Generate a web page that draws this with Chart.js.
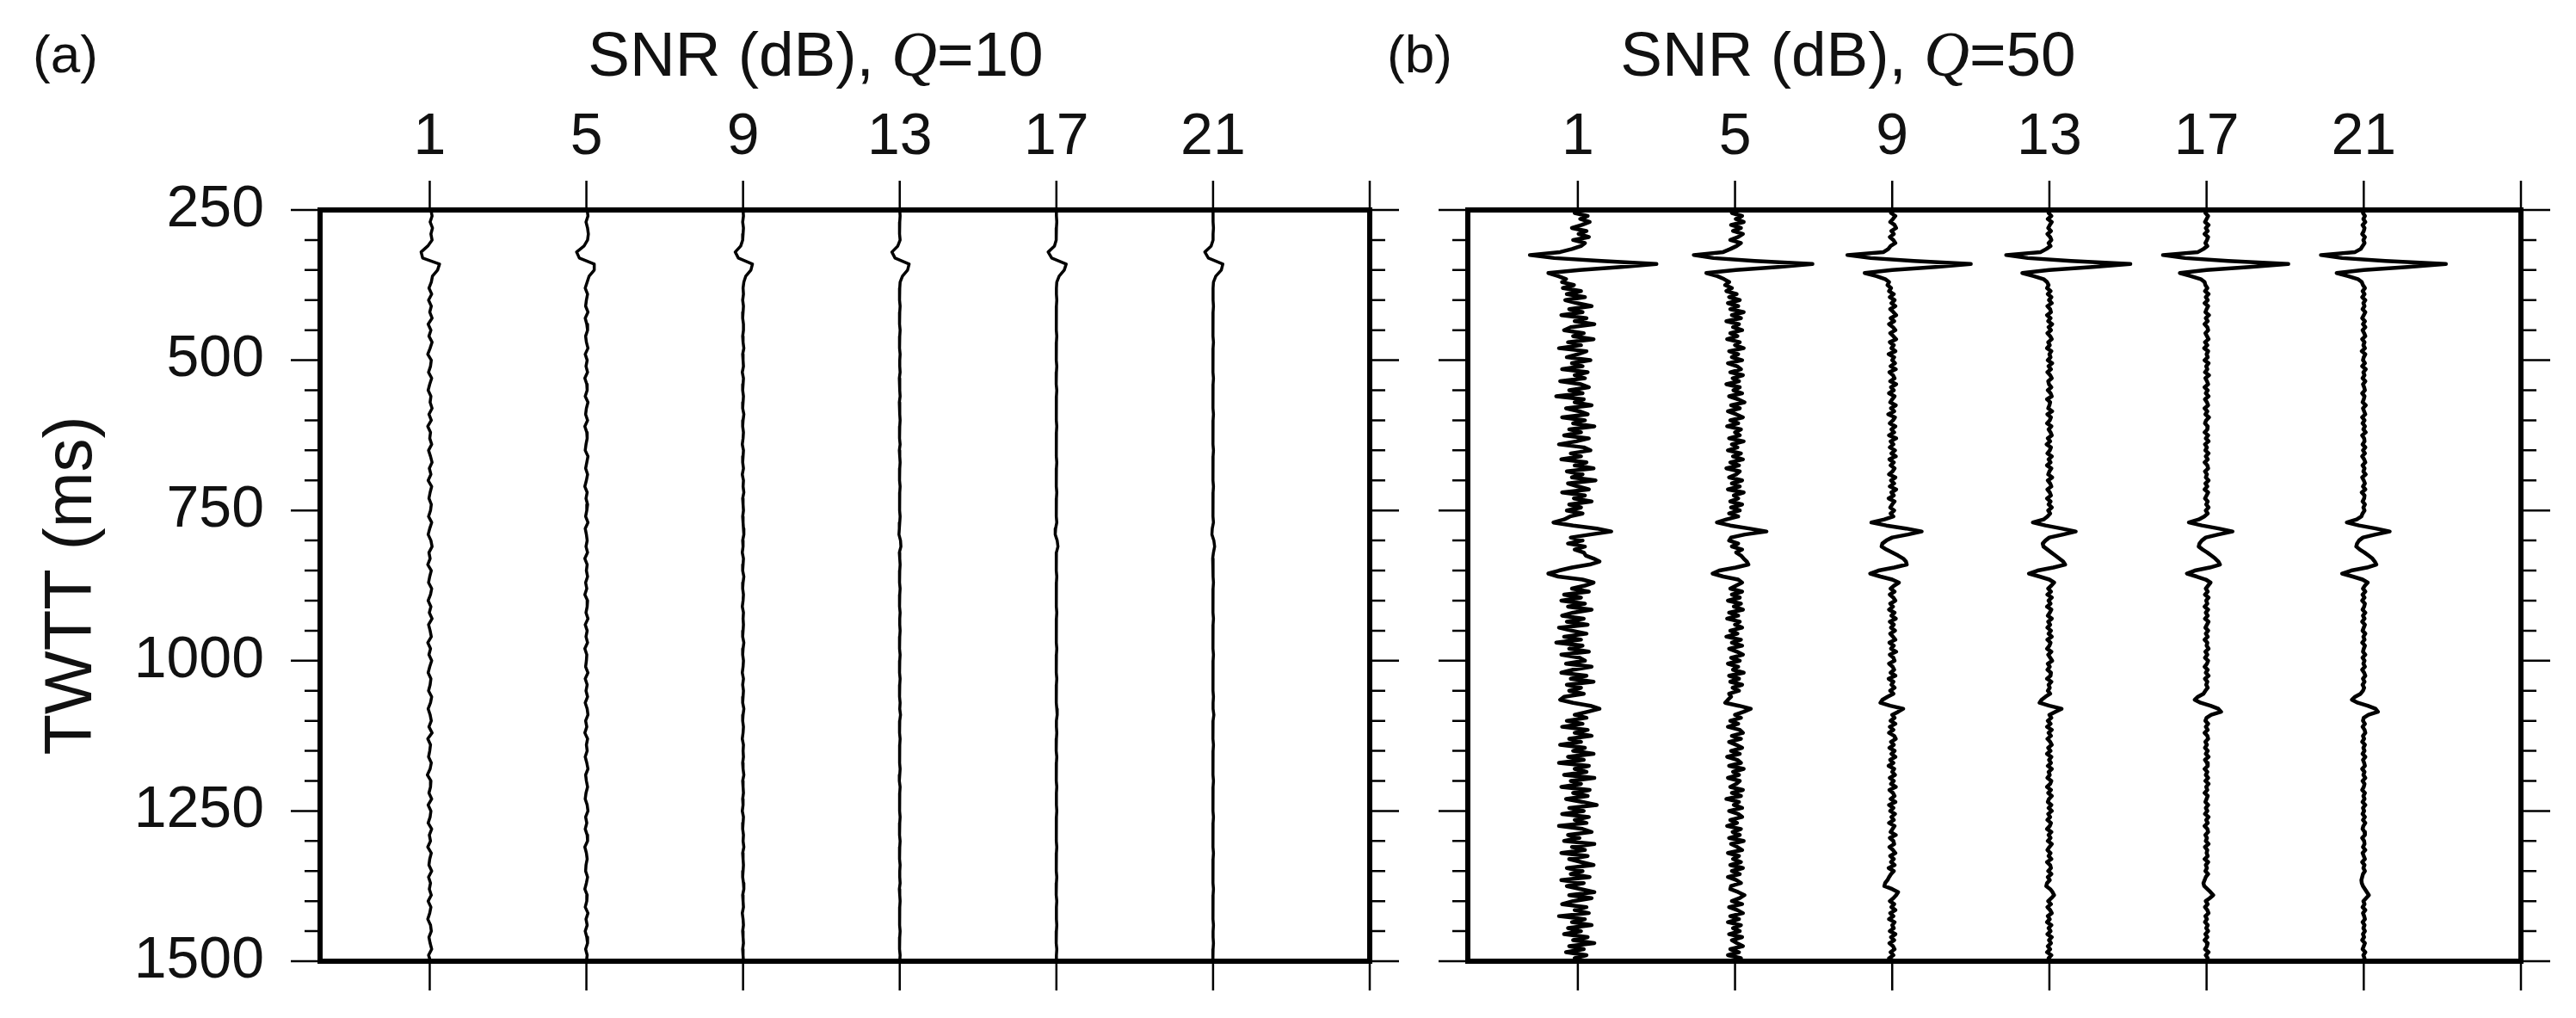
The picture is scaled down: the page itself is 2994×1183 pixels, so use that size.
<!DOCTYPE html>
<html>
<head>
<meta charset="utf-8">
<script src="https://cdn.jsdelivr.net/npm/chart.js@4.4.1/dist/chart.umd.min.js"></script>
<style>
  body { margin: 0; background: #fff; width: 2994px; height: 1183px; position: relative; overflow: hidden; font-family: "Liberation Sans", Arial, sans-serif; color: #111; }
  canvas { position: absolute; top: 0; }
  .txt { position: absolute; white-space: nowrap; transform: translate(-50%, -50%); line-height: 1; }
  .panel { font-size: 62px; }
  .ttl { font-size: 73px; }
  .ttl i { font-family: "Liberation Serif", serif; }
</style>
</head>
<body>
<canvas id="chartA" width="1650" height="1183" style="left:0"></canvas>
<canvas id="chartB" width="1344" height="1183" style="left:1650px"></canvas>
<div class="txt panel" style="left:76px;top:63px">(a)</div>
<div class="txt ttl" style="left:948px;top:63px">SNR (dB), <i>Q</i>=10</div>
<div class="txt panel" style="left:1650px;top:63px">(b)</div>
<div class="txt ttl" style="left:2148px;top:63px">SNR (dB), <i>Q</i>=50</div>
<script>
// trace positions (SNR in dB) and axis ticks
const snrList = [1, 5, 9, 13, 17, 21];
const xTickValues = [1, 5, 9, 13, 17, 21, 25];
const yTickValues = [250, 300, 350, 400, 450, 500, 550, 600, 650, 700, 750, 800, 850, 900, 950, 1000, 1050, 1100, 1150, 1200, 1250, 1300, 1350, 1400, 1450, 1500];
const yLabelValues = [250, 500, 750, 1000, 1250, 1500];

// sample times (ms): Q=10 panel every 10 ms, Q=50 panel every 5 ms
const timesA = Array.from({ length: 126 }, (_, i) => 250 + i * 10);
const timesB = Array.from({ length: 251 }, (_, i) => 250 + i * 5);

// amplitudes, in 1/100 of one dB step on the x axis
const q10snr1 = [
  3, 6, 1, 7, 3, 6, -5, -22, -18, 25,
  20, 7, 4, -2, 5, -3, 4, 0, 6, -4,
  3, -2, 6, 1, -5, 4, 2, -3, 5, 0,
  -4, 3, 1, 6, -2, 4, -5, 2, 0, 5,
  -3, 2, 6, -1, 3, -4, 5, 1, -2, 4,
  2, -3, 5, 0, -4, 3, 6, -2, 1, -5,
  4, 0, -3, 5, 2, -4, 3, -1, 6, -3,
  1, 4, -5, 2, -2, 5, 0, -4, 3, 1,
  -3, 5, 2, -4, 1, 4, -2, 6, -5, 2,
  0, -3, 4, 1, -6, 3, 2, -2, 5, -4,
  3, 1, -4, 5, -1, 2, -5, 4, 0, -2,
  5, -3, 2, -1, 4, -4, 3, 0, -5, 2,
  4, -2, 1, 5, -3, 2];
const q10snr5 = [
  2, 4, -1, 3, 5, 3, -6, -25, -18, 20,
  20, 7, 2, -3, 3, 0, -2, 4, -3, 1,
  3, -2, 0, 4, -3, 2, -1, 3, -4, 1,
  2, -3, 4, 0, -2, 3, -4, 1, 2, -1,
  -3, 4, 1, -2, 3, 0, -4, 2, -1, 3,
  1, -2, 4, -3, 0, 2, -1, 3, -4, 2,
  0, 3, -2, 1, -4, 3, 2, -1, 4, -3,
  2, -1, 3, -4, 1, 0, -2, 4, -3, 2,
  -1, 3, -3, 2, 4, -2, 1, -4, 3, 0,
  2, -3, 1, 4, -2, 0, 3, -1, -3, 2,
  4, -2, 1, -3, 2, 3, -4, 0, 2, -1,
  -2, 3, 0, -4, 2, 1, -3, 4, -1, 2,
  -3, 1, 3, -2, 2, 0];
const q10snr9 = [
  0, 1, -1, 1, 0, -1, -6, -20, -12, 24,
  20, 7, 2, 0, 1, -1, 1, 0, -1, 1,
  1, -1, 0, 2, -1, 0, 1, -2, 1, 0,
  -1, 1, 0, -1, 2, 0, -1, 1, 0, -2,
  1, 0, -1, 1, -2, 1, 0, 2, -1, 0,
  1, -1, 0, 1, 2, -1, 0, -2, 1, 0,
  -1, 2, 0, -1, 1, 0, -2, 1, 0, 1,
  0, -1, 2, 0, -1, 1, 0, -2, 1, -1,
  1, 0, -1, 2, 0, -1, 1, 0, -2, 1,
  0, 1, -1, 0, 2, -1, 0, 1, -1, 0,
  -2, 1, 0, -1, 1, 0, 2, -1, 0, 1,
  0, -1, 1, 2, -1, 0, 1, -2, 0, 1,
  -1, 0, 1, -1, 0, 1];
const q10snr13 = [
  0, 1, 0, -1, 0, 1, -5, -20, -12, 24,
  20, 7, 1, 0, -1, 0, 1, 0, -1, 0,
  1, 0, 0, -1, 1, 0, 0, 1, -1, 0,
  0, 1, -1, 0, 0, 1, 0, -1, 0, 1,
  -1, 0, 1, 0, -1, 0, 1, 0, 0, -1,
  0, 1, 0, -1, -2, 2, 3, -1, 0, 1,
  0, -1, 0, 1, 0, 0, -1, 1, 0, 0,
  1, 0, -1, 0, 1, 0, 0, -1, 1, 0,
  0, -1, 1, 0, 2, 0, -1, 0, 1, 0,
  -1, 0, 0, 1, 0, -1, 1, 0, 0, -1,
  0, 1, 0, -1, 0, 1, 0, 0, -1, 1,
  0, 0, 1, -1, 0, 1, 0, -1, 0, 0,
  1, 0, -1, 0, 1, 0];
const q10snr17 = [
  0, 0, 1, 0, -1, 0, -5, -21, -12, 25,
  20, 7, 1, 0, 0, 1, 0, -1, 0, 0,
  0, 1, 0, 0, -1, 0, 1, 0, 0, -1,
  1, 0, 0, -1, 0, 0, 1, 0, -1, 0,
  0, 0, 1, 0, 0, -1, 0, 1, 0, 0,
  -1, 0, 1, -2, -3, 2, 4, 0, -1, 0,
  0, 1, 0, 0, -1, 0, 0, 1, 0, 0,
  -1, 0, 0, 1, 0, 0, -1, 0, 1, 0,
  0, 0, -1, 1, 2, 0, 0, 1, 0, -1,
  0, 1, 0, 0, -1, 0, 1, 0, 0, 0,
  1, 0, 0, -1, 0, 0, 1, 0, -1, 0,
  0, 1, 0, 0, -1, 1, 0, 0, 0, 1,
  0, -1, 0, 1, 0, 0];
const q10snr21 = [
  0, 0, 0, 1, 0, 0, -5, -21, -12, 25,
  21, 7, 1, 0, 0, 0, 1, 0, 0, -1,
  0, 0, 1, 0, 0, -1, 0, 0, 1, 0,
  0, -1, 0, 0, 1, 0, 0, -1, 0, 0,
  1, 0, 0, 0, -1, 0, 1, 0, 0, 0,
  -1, 0, 1, -2, -3, 2, 4, 1, -1, 0,
  0, 0, 1, 0, 0, -1, 0, 0, 1, 0,
  0, -1, 0, 0, 1, 0, 0, 0, -1, 0,
  0, 1, 0, 0, 2, 0, -1, 0, 0, 1,
  0, 0, -1, 0, 0, 1, 0, 0, -1, 0,
  0, 1, 0, 0, 0, -1, 0, 1, 0, 0,
  -1, 0, 0, 1, 0, 0, 0, -1, 0, 1,
  0, 0, 1, 0, -1, 0];

const q50snr1 = [
  14, -8, 25, 6, 30, 10, -15, 22, 2, 28, -12, 18, 8, -15, -45, -122, -60, 60, 200, 110,
  5, -75, -50, -30, -40, -10, -38, 8, -28, 18, -32, -2, 35, -22, 12, -42, 22, -8, 42, -18,
  -35, 15, -12, 40, -25, 8, -48, 22, 0, -28, 32, -15, 12, -40, 25, -8, 18, -45, 8, 28,
  -22, 12, -55, 15, -8, 35, -30, 4, 25, -40, 18, -12, 42, -22, 8, -35, 28, -4, -48, 15,
  32, -18, 8, -42, 22, -8, 40, -28, 12, -15, 45, -25, 0, 28, -40, 18, -10, 35, -22, 8,
  -28, 12, -20, -35, -62, -12, 48, 85, 32, -18, 12, -25, 18, -8, 15, 20, 40, 55, 30, -15,
  -48, -75, -50, 12, 40, 18, -15, 28, -35, 8, -42, 18, -25, 35, -12, -40, 15, -28, 25, -48,
  -15, 22, -35, 8, -55, 12, -22, 28, -42, 4, 18, -30, 35, -12, -42, 22, -18, 40, -28, 8,
  -22, 15, -35, -45, -12, 32, 55, 25, -8, 22, -28, 12, -40, 25, -8, 35, -22, 8, -45, 18,
  -12, 40, -25, 15, -48, 28, -8, 22, -35, 42, -18, 8, -42, 30, -12, 25, -30, 12, 48, -22,
  15, -40, 28, -8, 22, -48, 12, 35, -25, 4, -35, 42, -15, 18, -42, 25, -22, 8, 40, -28,
  12, -18, 30, -42, 15, -28, 8, 42, -22, 35, -12, -40, 22, -8, 28, -48, 18, -15, 35, -25,
  8, -35, 25, -12, 42, -22, 15, -30, 22, -8, 10];
const q50snr5 = [
  12, -8, 18, 2, 22, -10, 15, -5, 20, 8, -12, 15, 4, -12, -30, -105, -55, 50, 197, 110,
  2, -73, -45, -28, -15, -25, -8, -22, 4, -15, 12, -18, 8, -12, 22, -8, 15, -22, 10, -5,
  18, -12, 6, -20, 12, 0, 22, -15, 8, -8, 18, -18, 5, 15, -12, 20, -6, 10, -22, 12,
  -4, 18, -15, 8, 24, -10, 12, -18, 3, 20, -12, 8, -20, 15, 0, 12, -15, 22, -8, 6,
  -18, 15, -5, 20, -12, 10, -22, 12, 3, -15, 18, -8, 12, -18, 22, -3, 8, -12, 18, -10,
  12, -15, 8, -22, -46, -12, 35, 80, 25, -10, -15, 8, -8, 18, 3, 15, 22, 30, 34, 2,
  -40, -57, -30, 8, 18, 3, -12, 18, -8, 12, -18, 15, -3, 20, -15, 8, -20, 12, 0, 18,
  -12, 6, -22, 15, -8, 18, -15, 5, 20, -10, 12, -18, 8, -5, 22, -15, 10, -12, 18, -6,
  10, -15, -10, -18, -25, 10, 40, 22, 0, 15, -12, 8, -18, 12, 20, -8, 15, -15, 3, 18,
  -10, 12, -20, 6, 15, -15, 22, -5, 10, -18, 12, 3, -12, 20, -8, 15, -22, 10, -3, 18,
  -15, 8, 18, -12, 5, -20, 15, -6, 12, -15, 22, -10, 6, 18, -18, 10, -5, 15, -12, 20,
  -8, 12, -18, 3, 15, -10, -12, 8, 24, 12, -8, 18, -15, 6, 20, -12, 10, -18, 15, -5,
  12, -15, 18, -8, 5, 20, -12, 10, -18, 15, 3];
const q50snr9 = [
  5, -3, 8, 2, -5, 6, 10, -2, 4, -6, 3, 8, -4, -10, -22, -114, -55, 55, 200, 110,
  0, -70, -40, -18, -8, -12, -3, -8, 4, -6, 6, -2, 8, -5, 3, 10, -4, 5, -8, 2,
  8, -5, 3, 10, -6, 4, -2, 8, -9, 5, 0, 7, -4, 9, -7, 2, 6, -5, 10, -3,
  4, -8, 6, 0, -5, 9, -3, 5, -10, 7, 2, -6, 8, -2, 5, -8, 10, -4, 3, -6,
  7, -2, 9, -7, 4, -4, 6, 1, -8, 8, -3, 5, -6, 10, -2, 4, -9, 6, 0, -5,
  5, -4, 3, -20, -53, -15, 35, 75, 40, 0, -15, -25, -27, -15, 0, 15, 28, 35, 37, 5,
  -35, -56, -30, 0, 17, 5, -4, 6, -6, 3, 8, -5, 2, -8, 6, -2, 9, -6, 4, -3,
  7, -5, 2, 8, -7, 4, -3, 10, -6, 3, 6, -8, 1, 5, -4, 8, -9, 3, -2, 6,
  -5, 3, -12, -25, -30, -5, 28, 15, 0, 6, -4, 8, -6, 3, -8, 5, 9, -3, 4, -7,
  6, -2, 8, -5, 3, -9, 5, 0, 7, -6, 4, -3, 9, -7, 2, 6, -4, 8, -8, 3,
  -5, 7, -2, 4, -8, 6, 1, -4, 9, -6, 3, 5, -7, 2, 8, -5, 4, -3, 6, -9,
  4, -3, -8, -12, -18, -20, 0, 15, 10, 3, -6, 5, -2, 8, -5, 3, -8, 6, 0, 4,
  -6, 8, -3, 5, -7, 2, 6, -4, 3, -8, 5];
const q50snr13 = [
  3, -2, 5, -4, 6, 1, -3, 4, -5, 2, 5, -2, 3, -8, -22, -110, -55, 55, 206, 110,
  0, -69, -40, -15, -6, -2, -6, 3, -4, 5, -1, 6, -5, 2, 4, -6, 3, -3, 7, -2,
  4, -5, 2, 6, -3, 1, -6, 5, 0, 3, -4, 7, -2, 4, -5, 2, 6, -3, -1, 5,
  -4, 3, 6, -6, 2, 0, -3, 7, -5, 4, 1, -6, 5, -2, 3, 6, -4, 2, -7, 4,
  1, -5, 6, -2, 3, -6, 5, 0, -3, 7, -4, 2, 5, -5, 1, 4, -6, 3, -2, 6,
  -3, 2, -5, -15, -42, -10, 30, 67, 35, 0, -10, -17, -15, -5, 5, 15, 25, 35, 40, 10,
  -30, -52, -25, 0, 12, 5, -3, 4, -5, 6, -2, 3, -6, 5, 1, -4, 6, -3, 2, -5,
  4, -2, 6, -5, 3, 0, -6, 5, -3, 2, 7, -4, 1, -5, 4, 3, -6, 5, -2, 1,
  -4, 2, -10, -20, -25, 0, 31, 15, 0, 5, -4, 3, -6, 6, -2, 4, -5, 2, 6, -3,
  3, -6, 5, -1, 4, -4, 6, -2, 1, -5, 5, 2, -6, 4, -3, 6, -1, -4, 5, -2,
  6, -3, 2, -5, 4, 1, -6, 5, -2, 3, -4, 6, 0, -5, 3, -2, 5, -6, 2, 4,
  -3, 5, -4, 1, -6, -8, 2, 8, 12, 5, -3, 4, -5, 2, 6, -4, 1, -6, 5, -2,
  3, -5, 6, -1, 4, -4, 2, -6, 5, -2, 3];
const q50snr17 = [
  2, -3, 4, 0, -4, 5, -2, 3, -5, 4, 1, -3, 2, -8, -22, -111, -55, 55, 208, 110,
  0, -68, -40, -15, -5, -3, 2, -4, 5, -2, 3, -5, 4, 0, -3, 6, -2, 3, -5, 2,
  4, -3, 1, 5, -4, 2, -6, 4, 0, 3, -5, 5, -1, 2, -4, 6, -3, 1, 4, -5,
  3, -2, 5, -4, 1, 4, -5, 2, -3, 6, -1, -4, 3, 2, -5, 4, -2, 5, -4, 1,
  -3, 5, -2, 3, -5, 2, 4, -4, 1, -2, 5, -3, 2, -5, 4, 0, -4, 3, -1, 5,
  -2, 3, -6, -20, -45, -12, 30, 66, 30, -2, -12, -18, -20, -10, 2, 12, 22, 30, 34, 8,
  -30, -50, -25, -2, 10, 4, -2, 3, -4, 5, -1, 2, -5, 4, -2, 3, -4, 5, 1, -3,
  4, -2, 3, -5, 2, 0, 5, -3, 2, -4, 4, 1, -5, 3, -2, 5, -4, 2, -1, 3,
  -3, -8, -22, -30, -15, 10, 30, 37, 12, 0, -3, 4, -2, 3, -5, 2, 4, -3, 1, -4,
  3, -2, 5, -4, 1, 3, -5, 2, -2, 4, -3, 5, -1, 2, -5, 3, 0, -3, 4, -2,
  2, -4, 5, -1, 3, -5, 2, 4, -3, 1, -2, 5, -4, 2, 0, 3, -5, 4, -2, 1,
  -3, 4, -2, -5, -8, -6, 2, 10, 17, 8, -2, 3, -4, 2, 5, -3, 1, -4, 3, -1,
  4, -3, 2, -5, 3, 1, -4, 5, -2, 3, -1];
const q50snr21 = [
  2, -2, 3, -1, 4, -3, 2, 0, -4, 3, -1, 2, -3, -8, -22, -109, -55, 55, 209, 112,
  0, -69, -40, -15, -5, -2, 3, -3, 2, -4, 4, -1, 2, -3, 4, 0, -4, 3, -2, 4,
  -3, 1, 4, -4, 2, -1, 3, -5, 4, 0, -2, 3, -4, 5, -1, 2, -3, 4, -2, 1,
  3, -4, 2, 0, -3, 5, -2, 1, 4, -4, 2, -3, 3, -1, 5, -4, 1, 2, -3, 4,
  -2, 3, -4, 1, 4, -3, 2, -1, 5, -4, 0, 3, -2, 4, -5, 2, 1, -3, 3, -1,
  2, -3, -6, -18, -43, -12, 30, 66, 30, -2, -12, -17, -19, -10, 2, 12, 22, 28, 32, 8,
  -32, -55, -28, -3, 10, 3, -2, 4, -3, 2, -4, 3, 1, -3, 4, -2, 2, -4, 3, 0,
  -3, 4, -1, 2, -4, 3, 0, -2, 4, -3, 2, -1, 3, -4, 1, 4, -2, 2, -3, 1,
  -2, -8, -22, -30, -15, 10, 30, 36, 12, 0, -2, 3, -3, 2, 4, -2, 1, -4, 3, -1,
  2, -3, 4, -2, 1, 3, -4, 2, -1, 4, -3, 2, 0, -4, 3, -1, 2, -3, 4, -2,
  1, -3, 3, -2, 4, -1, -3, 2, 3, -4, 1, 2, -2, 4, -3, 0, 3, -4, 2, -1,
  3, -2, -4, -6, -5, -2, 3, 8, 13, 6, -1, 2, -3, 4, -2, 1, 3, -3, 2, -1,
  3, -2, 1, -4, 3, 0, -3, 4, -1, 2, -2];

const tracesA = [q10snr1, q10snr5, q10snr9, q10snr13, q10snr17, q10snr21];
const tracesB = [q50snr1, q50snr5, q50snr9, q50snr13, q50snr17, q50snr21];

// thick frame plus outward ticks, drawn through the chart's scales
const framePlugin = {
  id: 'frame',
  afterDraw(chart) {
    const { ctx, chartArea: a, scales } = chart;
    ctx.save();
    ctx.strokeStyle = '#000';
    ctx.lineWidth = 2.5;
    ctx.beginPath();
    xTickValues.forEach(v => {
      const px = scales.x.getPixelForValue(v);
      ctx.moveTo(px, a.top); ctx.lineTo(px, a.top - 34);
      ctx.moveTo(px, a.bottom); ctx.lineTo(px, a.bottom + 34);
    });
    yTickValues.forEach(v => {
      const py = scales.y.getPixelForValue(v);
      const len = yLabelValues.includes(v) ? 34 : 18;
      ctx.moveTo(a.left, py); ctx.lineTo(a.left - len, py);
      ctx.moveTo(a.right, py); ctx.lineTo(a.right + len, py);
    });
    ctx.stroke();
    ctx.lineWidth = 6;
    ctx.strokeRect(a.left, a.top, a.right - a.left, a.bottom - a.top);
    ctx.restore();
  }
};

function traceSets(times, list, width) {
  return list.map((amps, k) => ({
    data: amps.map((a, i) => ({ x: snrList[k] + a / 100, y: times[i] })),
    borderColor: '#000',
    borderWidth: width,
    pointRadius: 0,
    tension: 0,
    fill: false,
    borderJoinStyle: 'round'
  }));
}

const fixW = w => s => { s.width = w; };
const fixH = h => s => { s.height = h; };
const noGrid = { display: false, drawTicks: false };
// invisible tick marks, only used to push the y labels away from the frame
const labelGap = { display: true, drawOnChartArea: false, drawTicks: true, tickLength: 65, color: 'rgba(0,0,0,0)' };

function makePanel(id, times, traces, g) {
  return new Chart(document.getElementById(id), {
    type: 'line',
    data: { datasets: traceSets(times, traces, g.lw) },
    options: {
      responsive: false,
      animation: false,
      devicePixelRatio: 1,
      events: [],
      layout: { padding: 0 },
      plugins: { legend: { display: false }, tooltip: { enabled: false } },
      scales: {
        x: {
          type: 'linear', position: 'top', min: -1.8, max: 25,
          afterBuildTicks: s => { s.ticks = xTickValues.map(v => ({ value: v })); },
          ticks: {
            autoSkip: false, maxRotation: 0, padding: 43, color: '#111',
            font: { family: '"Liberation Sans Narrow", "Liberation Sans", sans-serif', size: 68 },
            callback: v => snrList.includes(v) ? String(v) : ''
          },
          grid: noGrid, border: { display: false },
          afterFit: fixH(244)
        },
        xb: {
          type: 'linear', position: 'bottom', min: -1.8, max: 25,
          ticks: { display: false }, grid: noGrid, border: { display: false },
          afterFit: fixH(66)
        },
        y: {
          type: 'linear', position: 'left', reverse: true, min: 250, max: 1500,
          afterBuildTicks: s => { s.ticks = yTickValues.map(v => ({ value: v })); },
          ticks: {
            display: g.labels, autoSkip: false, padding: 0, color: '#111',
            font: { family: '"Liberation Sans"', size: 68 },
            callback: v => yLabelValues.includes(v) ? String(v) : ''
          },
          title: {
            display: g.labels, text: 'TWTT (ms)', color: '#111',
            font: { family: '"Liberation Sans"', size: 78 },
            padding: { top: 38, bottom: 0 }
          },
          grid: g.labels ? labelGap : noGrid, border: { display: false },
          afterFit: fixW(g.left)
        },
        yr: {
          type: 'linear', position: 'right', reverse: true, min: 250, max: 1500,
          ticks: { display: false }, grid: noGrid, border: { display: false },
          afterFit: fixW(g.right)
        }
      }
    },
    plugins: [framePlugin]
  });
}

makePanel('chartA', timesA, tracesA, { left: 372, right: 58, labels: true, lw: 3.5 });
makePanel('chartB', timesB, tracesB, { left: 56, right: 64, labels: false, lw: 4.5 });
</script>
</body>
</html>
